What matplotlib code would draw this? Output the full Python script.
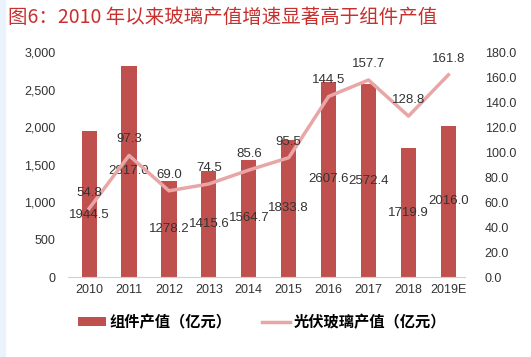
import matplotlib
matplotlib.use("Agg")
import matplotlib.pyplot as plt
import numpy as np

plt.rcParams['font.family'] = ['Liberation Sans', 'Noto Sans CJK SC', 'DejaVu Sans']

years = ["2010", "2011", "2012", "2013", "2014", "2015", "2016", "2017", "2018", "2019E"]
module_value = [1944.5, 2817.0, 1278.2, 1415.6, 1564.7, 1833.8, 2607.6, 2572.4, 1719.9, 2016.0]
glass_value = [54.8, 97.3, 69.0, 74.5, 85.6, 95.5, 144.5, 157.7, 128.8, 161.8]
left_ticks = [0, 500, 1000, 1500, 2000, 2500, 3000]
right_ticks = [0, 20, 40, 60, 80, 100, 120, 140, 160, 180]

bar_color = "#c0504d"
line_color = "#e8a6a6"
text_color = "#333333"

fig = plt.figure(figsize=(5.31, 3.57), dpi=100)
fig.patch.set_facecolor("white")
# faint blue strip on the left edge
fig.patches.append(plt.Rectangle((0, 0), 0.01, 1, transform=fig.transFigure,
                                 color="#eaf3fb", zorder=0))

fig.text(0.016, 0.95, "图6：2010 年以来玻璃产值增速显著高于组件产值",
         color="#c8302e", fontsize=14, va="center", ha="left",
         family=['Noto Sans CJK SC', 'DejaVu Sans'])

ax = fig.add_axes([0.128, 0.224, 0.748, 0.630])
x = np.arange(len(years))
bars = ax.bar(x, module_value, width=0.38, color=bar_color, label="组件产值（亿元）", zorder=2)
ax.set_ylim(0, 3000)
ax.set_xlim(-0.53, 9.42)
ax.set_yticks(left_ticks)
ax.set_yticklabels(["{:,}".format(v) for v in left_ticks])
ax.set_xticks(x)
ax.set_xticklabels(years)
for s in ["top", "right", "left"]:
    ax.spines[s].set_visible(False)
ax.spines["bottom"].set_color("#d0d0d0")
ax.tick_params(length=0, labelsize=9, labelcolor=text_color)
ax.tick_params(axis="y", pad=9)
ax.tick_params(axis="x", pad=5)

# bar labels sit mid-bar; the first one is nudged down clear of the line label
for i, (xi, v) in enumerate(zip(x, module_value)):
    dy = -11 if i == 0 else 0
    ax.annotate("{:.1f}".format(v), (xi, v / 2), xytext=(0, dy),
                textcoords="offset pixels", ha="center", va="center",
                fontsize=9.5, color=text_color, zorder=4)

ax2 = ax.twinx()
ax2.plot(x, glass_value, color=line_color, lw=2.5, label="光伏玻璃产值（亿元）", zorder=3)
ax2.set_ylim(0, 180)
ax2.set_yticks(right_ticks)
ax2.set_yticklabels(["{:.1f}".format(v) for v in right_ticks])
for s in ["top", "right", "left", "bottom"]:
    ax2.spines[s].set_visible(False)
ax2.tick_params(length=0, labelsize=9, labelcolor=text_color, pad=14)

for xi, v in zip(x, glass_value):
    ax2.annotate("{:.1f}".format(v), (xi, v), xytext=(0, 16),
                 textcoords="offset pixels", ha="center", va="center",
                 fontsize=9.5, color=text_color, zorder=4)

handles = [bars, ax2.get_lines()[0]]
fig.legend(handles, [h.get_label() for h in handles], loc="center",
           bbox_to_anchor=(0.494, 0.098), ncol=2, frameon=False,
           prop={'family': ['Noto Sans CJK SC', 'DejaVu Sans'], 'size': 11, 'weight': 'bold'},
           handlelength=1.8, handleheight=0.45, columnspacing=2.0, handletextpad=0.25)

fig.savefig("out.png", dpi=100)
